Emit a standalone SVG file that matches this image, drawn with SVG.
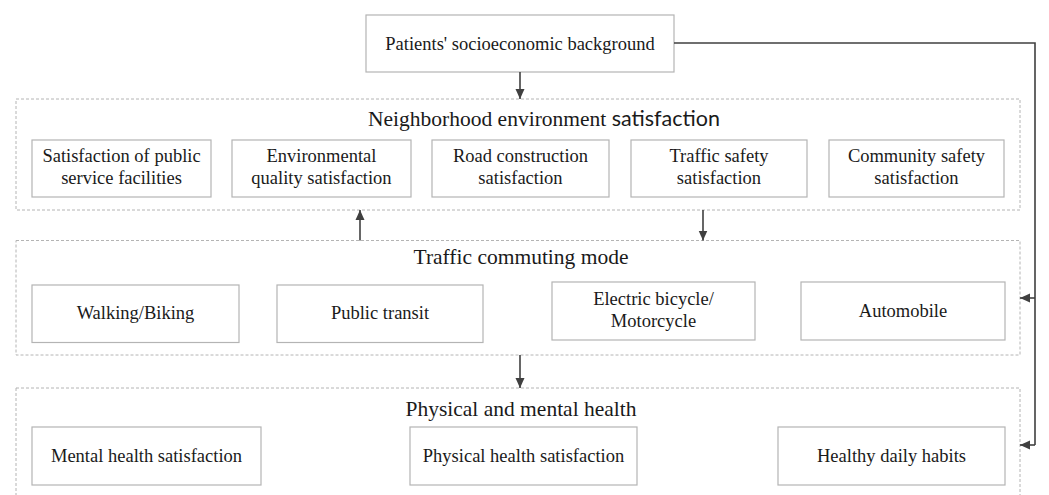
<svg xmlns="http://www.w3.org/2000/svg" width="1049" height="495" viewBox="0 0 1049 495">
  <style>
    .box { fill: #ffffff; stroke: #b4b4b4; stroke-width: 1.2; }
    .group { fill: none; stroke: #b4b4b4; stroke-width: 1; stroke-dasharray: 3 2; }
    .label { font-family: "Liberation Serif", "Times New Roman", serif; font-size: 18.5px; fill: #1a1a1a; text-anchor: middle; }
    .title { font-family: "Liberation Serif", "Times New Roman", serif; font-size: 21.5px; fill: #1a1a1a; text-anchor: middle; }
    .sans { font-family: Lato, "Open Sans", sans-serif; }
    .link { fill: none; stroke: #404040; stroke-width: 1.6; }
  </style>
  <defs>
    <marker id="arrow" viewBox="0 0 10 10" refX="10" refY="5" markerWidth="10" markerHeight="10" markerUnits="userSpaceOnUse" orient="auto">
      <path d="M0,0.5 L10,5 L0,9.5 Z" fill="#404040"/>
    </marker>
  </defs>

  <rect width="1049" height="495" fill="#ffffff"/>

  <!-- group frames -->
  <g id="neighborhood-group">
    <rect class="group" x="16" y="99" width="1004" height="111"/>
    <text class="title" x="544" y="126">Neighborhood environment <tspan class="sans">satisfaction</tspan></text>
  </g>
  <g id="commuting-group">
    <rect class="group" x="16" y="240.5" width="1004" height="114.5"/>
    <text class="title" x="521" y="264">Traffic commuting mode</text>
  </g>
  <g id="health-group">
    <rect class="group" x="16" y="388" width="1004" height="120"/>
    <text class="title" x="521" y="416">Physical and mental health</text>
  </g>

  <!-- source node -->
  <g id="socioeconomic">
    <rect class="box" x="366" y="15" width="308" height="57"/>
    <text class="label" x="520" y="49.5">Patients' socioeconomic background</text>
  </g>

  <!-- neighborhood items -->
  <g id="public-service">
    <rect class="box" x="32" y="140" width="179" height="57"/>
    <text class="label" x="121.5" y="162">Satisfaction of public</text>
    <text class="label" x="121.5" y="184">service facilities</text>
  </g>
  <g id="environmental-quality">
    <rect class="box" x="232" y="140" width="179" height="57"/>
    <text class="label" x="321.5" y="162">Environmental</text>
    <text class="label" x="321.5" y="184">quality satisfaction</text>
  </g>
  <g id="road-construction">
    <rect class="box" x="432" y="140" width="177" height="57"/>
    <text class="label" x="520.5" y="162">Road construction</text>
    <text class="label" x="520.5" y="184">satisfaction</text>
  </g>
  <g id="traffic-safety">
    <rect class="box" x="631" y="140" width="176" height="57"/>
    <text class="label" x="719" y="162">Traffic safety</text>
    <text class="label" x="719" y="184">satisfaction</text>
  </g>
  <g id="community-safety">
    <rect class="box" x="829" y="140" width="175" height="57"/>
    <text class="label" x="916.5" y="162">Community safety</text>
    <text class="label" x="916.5" y="184">satisfaction</text>
  </g>

  <!-- commuting modes -->
  <g id="walking-biking">
    <rect class="box" x="32" y="285" width="207" height="57.5"/>
    <text class="label" x="135.5" y="319">Walking/Biking</text>
  </g>
  <g id="public-transit">
    <rect class="box" x="277" y="285" width="206" height="57.5"/>
    <text class="label" x="380" y="319">Public transit</text>
  </g>
  <g id="electric-bicycle">
    <rect class="box" x="552" y="282" width="203" height="58"/>
    <text class="label" x="653.5" y="305">Electric bicycle/</text>
    <text class="label" x="653.5" y="327">Motorcycle</text>
  </g>
  <g id="automobile">
    <rect class="box" x="801" y="282" width="204" height="58"/>
    <text class="label" x="903" y="317">Automobile</text>
  </g>

  <!-- health outcomes -->
  <g id="mental-health">
    <rect class="box" x="32" y="427" width="229" height="58"/>
    <text class="label" x="146.5" y="462">Mental health satisfaction</text>
  </g>
  <g id="physical-health">
    <rect class="box" x="410" y="427" width="227" height="58"/>
    <text class="label" x="523.5" y="462">Physical health satisfaction</text>
  </g>
  <g id="daily-habits">
    <rect class="box" x="778" y="427" width="227" height="58"/>
    <text class="label" x="891.5" y="462">Healthy daily habits</text>
  </g>

  <!-- connectors -->
  <g id="connectors">
    <line class="link" x1="520" y1="72" x2="520" y2="99" marker-end="url(#arrow)"/>
    <line class="link" x1="360" y1="240.5" x2="360" y2="210" marker-end="url(#arrow)"/>
    <line class="link" x1="703" y1="210" x2="703" y2="240.5" marker-end="url(#arrow)"/>
    <line class="link" x1="520" y1="355" x2="520" y2="388" marker-end="url(#arrow)"/>
    <polyline class="link" points="674,43 1035,43 1035,445"/>
    <line class="link" x1="1035" y1="298" x2="1020" y2="298" marker-end="url(#arrow)"/>
    <line class="link" x1="1035" y1="445" x2="1020" y2="445" marker-end="url(#arrow)"/>
  </g>
</svg>
